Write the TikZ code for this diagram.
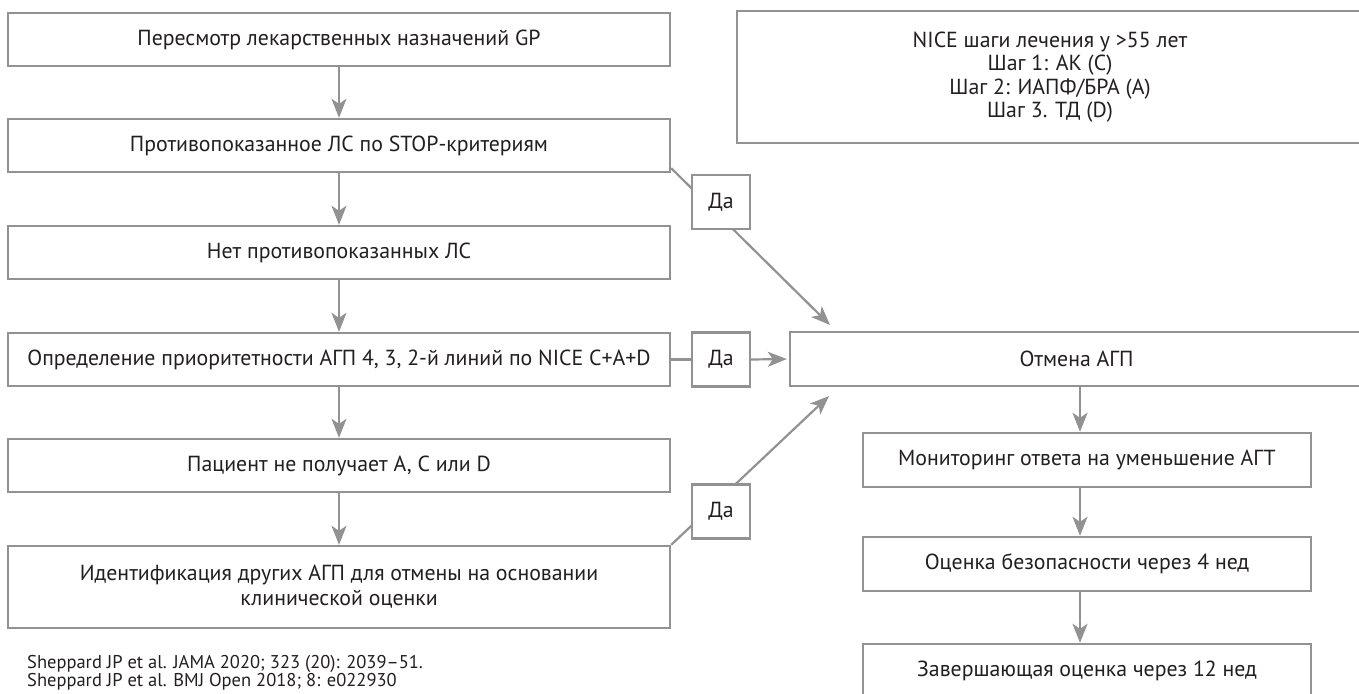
\documentclass[tikz,border=0pt]{standalone}
\usepackage{fontspec}
\setmainfont{PT Sans}
\usetikzlibrary{arrows.meta}
\definecolor{lg}{RGB}{146,146,148}
\definecolor{tx}{RGB}{35,31,32}
\begin{document}
\begin{tikzpicture}[x=1pt,y=-1pt,
  box/.style={draw=lg,line width=2.4pt,fill=white,text=tx,font=\fontsize{21.8}{25}\selectfont,inner sep=0pt,align=center},
  lbox/.style={box,minimum width=662pt,minimum height=53pt},
  rbox/.style={box,minimum width=448pt,minimum height=54pt},
  dabox/.style={box,minimum width=58pt,minimum height=54pt},
  ln/.style={draw=lg,line width=2.2pt},
  arr/.style={ln,-{Stealth[length=19pt,width=15pt,inset=5pt]}}]
\useasboundingbox (0,0) rectangle (1359,693);
% left column
\node[lbox] (b1) at (339,39.5) {Пересмотр лекарственных назначений GP};
\node[lbox] (b2) at (339,145.5) {Противопоказанное ЛС по STOP-критериям};
\node[lbox] (b3) at (339,252.5) {Нет противопоказанных ЛС};
\node[lbox] (b4) at (339,359.5) {Определение приоритетности АГП 4, 3, 2-й линий по NICE C+A+D};
\node[lbox] (b5) at (339,465.5) {Пациент не получает A, C или D};
\node[lbox,minimum height=82pt] (b6) at (339,587) {Идентификация других АГП для отмены на основании\\клинической оценки};
% right column
\node[box,minimum width=626pt,minimum height=132pt,font=\fontsize{21.8}{23.5}\selectfont] (nice) at (1050,77) {NICE шаги лечения у >55 лет\\Шаг 1: АК (C)\\Шаг 2: ИАПФ/БРА (A)\\Шаг 3. ТД (D)};
\node[box,minimum width=573pt,minimum height=54pt] (otm) at (1076.5,359) {Отмена АГП};
\node[rbox] (mon) at (1087,460) {Мониторинг ответа на уменьшение АГТ};
\node[rbox] (ocn) at (1087,564) {Оценка безопасности через 4 нед};
\node[rbox] (zav) at (1087,671) {Завершающая оценка через 12 нед};
% vertical arrows
\draw[arr] (b1.south) -- (b2.north);
\draw[arr] (b2.south) -- (b3.north);
\draw[arr] (b3.south) -- (b4.north);
\draw[arr] (b4.south) -- (b5.north);
\draw[arr] (b5.south) -- (b6.north);
\coordinate (cx) at (1080,0);
\draw[arr] (cx |- otm.south) -- (cx |- mon.north);
\draw[arr] (cx |- mon.south) -- (cx |- ocn.north);
\draw[arr] (cx |- ocn.south) -- (cx |- zav.north);
% yes branches
\coordinate (t1) at (830,325);
\coordinate (t2) at (829,396);
\draw[arr] ([yshift=5pt]b2.south east) -- (t1);
\draw[arr] (b6.north east) -- (t2);
\node[dabox] (da1) at (721,202) {Да};
\node[dabox] (da2) at (721,359.5) {Да};
\node[dabox] (da3) at (721,511.5) {Да};
\draw[ln] (b4.east) -- (da2.west);
\draw[arr,shorten >=2pt] (da2.east) -- (otm.west);
% references
\node[anchor=west,align=left,inner sep=0pt,text=tx,font=\fontsize{18.5}{17}\selectfont] (ref) at (27,673) {Sheppard JP et al. JAMA 2020; 323 (20): 2039–51.\\Sheppard JP et al. BMJ Open 2018; 8: e022930};
\end{tikzpicture}
\end{document}
